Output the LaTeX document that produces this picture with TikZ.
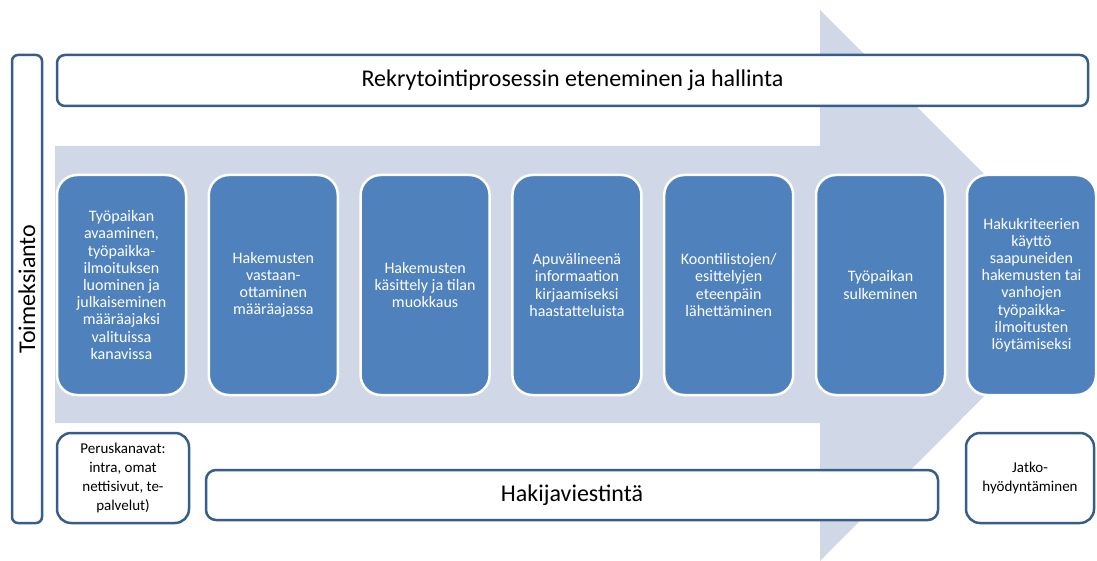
\documentclass[tikz,border=0pt]{standalone}
\usepackage{fontspec}
\setmainfont{Carlito}
\definecolor{boxblue}{HTML}{4F81BD}
\definecolor{edgeblue}{HTML}{385D8A}
\definecolor{arrowgray}{HTML}{D0D8E8}
\tikzset{
  stepbox/.style={draw=white, line width=2.5pt, fill=boxblue, rounded corners=20pt,
    minimum width=129pt, minimum height=220pt, text=white, align=center,
    font=\fontsize{16}{17.2}\selectfont, inner sep=0pt},
  framebox/.style={draw=edgeblue, line width=2.5pt, fill=white, align=center, inner sep=0pt},
  bigtext/.style={font=\fontsize{24}{28}\selectfont},
  smalltext/.style={font=\fontsize{15}{19.3}\selectfont},
}
\begin{document}
\begin{tikzpicture}[x=1pt, y=-1pt]
\useasboundingbox (0,0) rectangle (1097,561);
% big background arrow
\fill[arrowgray] (55,146) -- (820,146) -- (820,10) -- (1095,285) -- (820,561) -- (820,423) -- (55,423) -- cycle;
% frames
\node[framebox, rounded corners=6pt, minimum width=30pt, minimum height=468pt] (toim) at (27,289)
  {\rotatebox{90}{\fontsize{24}{28}\selectfont Toimeksianto}};
\node[framebox, bigtext, rounded corners=8pt, minimum width=1031pt, minimum height=51pt] (top) at (572.5,80.5)
  {Rekrytointiprosessin eteneminen ja hallinta};
% step boxes
\node[stepbox] (s1) at (121.5,285) {Työpaikan\\avaaminen,\\työpaikka-\\ilmoituksen\\luominen ja\\julkaiseminen\\määräajaksi\\valituissa\\kanavissa};
\node[stepbox] (s2) at (273.3,285) {Hakemusten\\vastaan-\\ottaminen\\määräajassa};
\node[stepbox] (s3) at (425.1,285) {Hakemusten\\käsittely ja tilan\\muokkaus};
\node[stepbox] (s4) at (576.9,285) {Apuvälineenä\\informaation\\kirjaamiseksi\\haastatteluista};
\node[stepbox] (s5) at (728.7,285) {Koontilistojen/\\esittelyjen\\eteenpäin\\lähettäminen};
\node[stepbox] (s6) at (880.5,285) {Työpaikan\\sulkeminen};
\node[stepbox] (s7) at (1031.5,285) {Hakukriteerien\\käyttö\\saapuneiden\\hakemusten tai\\vanhojen\\työpaikka-\\ilmoitusten\\löytämiseksi};
% bottom frames
\node[framebox, smalltext, rounded corners=14pt, minimum width=132pt, minimum height=90pt] (perus) at (123,478)
  {Peruskanavat:\\intra, omat\\nettisivut, te-\\palvelut)};
\node[framebox, bigtext, rounded corners=10pt, minimum width=732pt, minimum height=50pt] (haki) at (572,495)
  {Hakijaviestintä};
\node[framebox, smalltext, rounded corners=14pt, minimum width=128pt, minimum height=90pt] (jatko) at (1030,478)
  {Jatko-\\hyödyntäminen};
\end{tikzpicture}
\end{document}
